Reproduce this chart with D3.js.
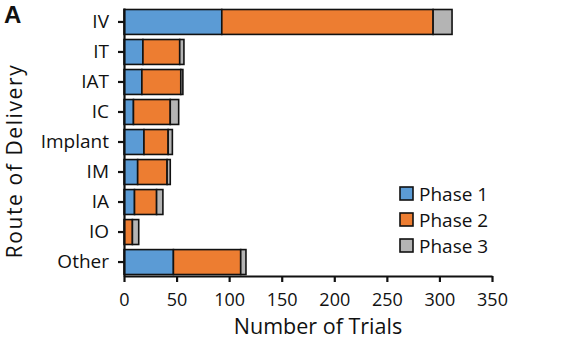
<!DOCTYPE html>
<html>
<head>
<meta charset="utf-8">
<script src="https://cdnjs.cloudflare.com/ajax/libs/d3/7.8.5/d3.min.js"></script>
<style>
  body { margin: 0; background: #fff; }
  svg text { font-family: "Open Sans", sans-serif; fill: #111; }
</style>
</head>
<body>
<div class="canvas"></div>
<script>
// data
const routes = ['IV', 'IT', 'IAT', 'IC', 'Implant', 'IM', 'IA', 'IO', 'Other'];
const phase1 = [93, 18, 17, 9, 19, 13, 10, 0, 47];
const phase2 = [201, 35, 37, 35, 23, 28, 21, 8, 64];
const phase3 = [18, 4, 2, 8, 4, 3, 6, 6, 5];
const phaseNames = ['Phase 1', 'Phase 2', 'Phase 3'];
const phaseColors = ['#5B9BD5', '#ED7D31', '#B4B4B4'];
const xTicks = [0, 50, 100, 150, 200, 250, 300, 350];

const svg = d3.select('.canvas')
    .append('svg')
    .attr('width', 588)
    .attr('height', 350);

const margin = {top: 8, right: 96, bottom: 74, left: 124};
const graphWidth = 588 - margin.left - margin.right;
const graphHeight = 350 - margin.top - margin.bottom;

const graph = svg.append('g')
    .attr('transform', `translate(${margin.left}, ${margin.top})`);

// scales
const x = d3.scaleLinear()
    .domain([0, 350])
    .range([0, graphWidth]);

const y = d3.scaleBand()
    .domain(routes)
    .range([0, graphHeight])
    .paddingInner(0.17)
    .paddingOuter(0.05);

// stack the three phases
const table = routes.map((r, i) => ({route: r, p1: phase1[i], p2: phase2[i], p3: phase3[i]}));
const stack = d3.stack().keys(['p1', 'p2', 'p3']);
const layers = stack(table);

const layerGroups = graph.selectAll('g.layer')
    .data(layers)
    .enter()
    .append('g')
    .attr('class', 'layer')
    .attr('fill', (d, i) => phaseColors[i]);

layerGroups.selectAll('rect')
    .data(d => d.filter(s => s[1] - s[0] > 0))
    .enter()
    .append('rect')
    .attr('x', d => x(d[0]))
    .attr('y', d => y(d.data.route))
    .attr('width', d => x(d[1]) - x(d[0]))
    .attr('height', y.bandwidth())
    .attr('stroke', '#111')
    .attr('stroke-width', 1.6);

// axes
const xAxis = d3.axisBottom(x)
    .tickValues(xTicks)
    .tickSize(6)
    .tickSizeOuter(0);
const yAxis = d3.axisLeft(y)
    .tickSize(6)
    .tickSizeOuter(0);

const xAxisGroup = graph.append('g')
    .attr('transform', `translate(0, ${graphHeight})`)
    .call(xAxis);
const yAxisGroup = graph.append('g')
    .call(yAxis);

[xAxisGroup, yAxisGroup].forEach(g => {
    g.select('.domain').attr('stroke', '#111').attr('stroke-width', 2.2);
    g.selectAll('.tick line').attr('stroke', '#111').attr('stroke-width', 2.2);
    g.selectAll('.tick text')
        .style('font-size', '19px')
        .style('font-family', '"Open Sans", sans-serif')
        .attr('fill', '#111');
});
xAxisGroup.selectAll('.tick text')
    .style('font-size', '18px')
    .attr('y', 17);
yAxisGroup.selectAll('.tick text').attr('x', -15);

// axis titles
svg.append('text')
    .attr('x', 318)
    .attr('y', 334)
    .attr('text-anchor', 'middle')
    .style('font-size', '21.5px')
    .text('Number of Trials');

svg.append('text')
    .attr('transform', 'translate(22, 161) rotate(-90)')
    .attr('text-anchor', 'middle')
    .style('font-size', '21px')
    .style('letter-spacing', '1.6px')
    .text('Route of Delivery');

// panel letter
svg.append('text')
    .attr('x', 4)
    .attr('y', 23)
    .style('font-size', '24px')
    .style('font-weight', 'bold')
    .style('font-family', '"Liberation Sans", Arial, sans-serif')
    .text('A');

// legend
const legend = svg.append('g')
    .attr('transform', 'translate(400, 187)');

const items = legend.selectAll('g')
    .data(phaseNames)
    .enter()
    .append('g')
    .attr('transform', (d, i) => `translate(0, ${i * 26})`);

items.append('rect')
    .attr('width', 13)
    .attr('height', 13)
    .attr('fill', (d, i) => phaseColors[i])
    .attr('stroke', '#111')
    .attr('stroke-width', 1.6);

items.append('text')
    .attr('x', 19)
    .attr('y', 7)
    .attr('dy', '0.35em')
    .style('font-size', '19px')
    .text(d => d);
</script>
</body>
</html>
